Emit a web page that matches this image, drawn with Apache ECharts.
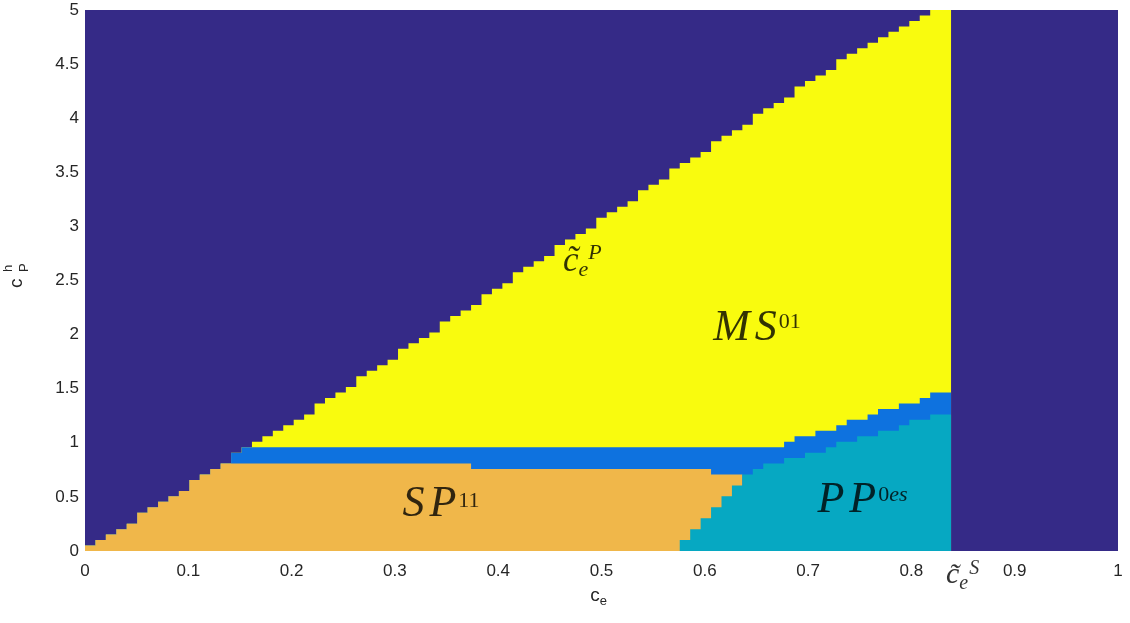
<!DOCTYPE html>
<html><head><meta charset="utf-8">
<script src="https://cdn.jsdelivr.net/npm/echarts@6/dist/echarts.min.js"></script>
<style>html,body{margin:0;padding:0;background:#fff}#c{width:1130px;height:623px}</style>
</head><body><div id="c"></div>
<script>
// ---- data ----
// the region map was sampled on a 100 x 100 grid -> 99 x 99 cells
const nCols = 99, nRows = 99;
const xMax = 1, yMax = 5;
const xTickLabels = ['0','0.1','0.2','0.3','0.4','0.5','0.6','0.7','0.8','0.9','1'];
const yTickLabels = ['0','0.5','1','1.5','2','2.5','3','3.5','4','4.5','5'];
// upper (diagonal) boundary c~e^P, in row cells, for columns 0..82
const diagTop = [1,2,3,4,5,7,8,9,10,11,13,14,15,16,18,19,20,21,22,23,24,
  25,27,28,29,30,32,33,34,35,37,38,39,40,42,43,44,45,47,48,49,
  51,52,53,54,56,57,58,59,61,62,63,64,66,67,68,70,71,72,73,75,
  76,77,78,80,81,82,83,85,86,87,88,90,
  91,92,93,94,95,96,97,98,99,99];
// lower edge of MS^01 (top of the blue band): runs [firstCol, lastCol, rowCell]
const msBottom = [[0,66,19],[67,67,20],[68,69,21],[70,71,22],[72,72,23],[73,74,24],[75,75,25],[76,77,26],[78,79,27],[80,80,28],[81,82,29]];
// top of SP^11
const spTop = [[0,36,16],[37,59,15],[60,62,14]];
// top of PP^0es
const ppTop = [[57,57,2],[58,58,4],[59,59,6],[60,60,8],[61,61,10],[62,62,12],[63,63,14],[64,64,15],[65,66,16],[67,68,17],[69,70,18],[71,71,19],[72,73,20],[74,75,21],[76,77,22],[78,78,23],[79,80,24],[81,82,25]];

// ---- chart ----
const cw = xMax / nCols, ch = yMax / nRows;
const lastCol = diagTop.length - 1;
function runValue(runs, k) { for (const r of runs) if (k >= r[0] && k <= r[1]) return r[2]; return 0; }
const regions = [
  { color: '#f9fb0e', k0: 0, k1: lastCol, top: k => diagTop[k] },
  { color: '#0e72df', k0: 0, k1: lastCol, top: k => Math.min(diagTop[k], runValue(msBottom, k)) },
  { color: '#f0b74a', k0: 0, k1: spTop[spTop.length-1][1], top: k => Math.min(diagTop[k], runValue(spTop, k)) },
  { color: '#06a8c2', k0: ppTop[0][0], k1: lastCol, top: k => runValue(ppTop, k) }
];

const serif = '"Liberation Serif", "DejaVu Serif", serif';
const sans = '"Liberation Sans", Arial, sans-serif';
function tok(size, italic, padTop, padRight, lh) {
  return { fontFamily: serif, fontStyle: italic ? 'italic' : 'normal', fontSize: size, lineHeight: lh || size,
    color: '#000', verticalAlign: 'top', padding: [padTop, padRight, 0, 0] };
}
const rich = {
  big:  tok(44, true, 0, 5, 48),
  bigL: tok(44, true, 0, 2, 48),
  supM: tok(22, false, 4, 0),
  supS: tok(22, false, 7, 0),
  supP: tok(22, false, 6, 0),
  supPi: tok(22, true, 6, 1),
  c:    tok(35, true, 3, 0, 44),
  csub: tok(22, true, 18, 0),
  csup: tok(22, true, 1, 0),
  c2:    tok(30, true, 3, 0, 40),
  c2sub: tok(20, true, 16, 1),
  c2sup: tok(20, true, 1, 0)
};

const option = {
  animation: false,
  grid: { left: 85, right: 12, top: 10, bottom: 72, show: true, backgroundColor: '#352a87', borderWidth: 0 },
  xAxis: {
    type: 'value', min: 0, max: xMax, interval: 0.1,
    axisLine: { show: false }, axisTick: { show: false }, splitLine: { show: false },
    axisLabel: { fontFamily: sans, fontSize: 17, color: '#262626', margin: 12,
      formatter: v => xTickLabels[Math.round(v / 0.1)] },
    name: '{c|c}{e|e}', nameLocation: 'middle', nameGap: 35,
    nameTextStyle: { rich: {
      c: { fontFamily: sans, fontSize: 19, color: '#262626', lineHeight: 28, verticalAlign: 'top', padding: [0,0,0,0] },
      e: { fontFamily: sans, fontSize: 13, color: '#262626', lineHeight: 13, verticalAlign: 'top', padding: [9,6,0,0] } } }
  },
  yAxis: {
    type: 'value', min: 0, max: yMax, interval: 0.5,
    axisLine: { show: false }, axisTick: { show: false }, splitLine: { show: false },
    axisLabel: { fontFamily: sans, fontSize: 17, color: '#262626', margin: 6, padding: [9,0,0,0],
      formatter: v => yTickLabels[Math.round(v / 0.5)] }
  },
  graphic: [{
    type: 'group', x: 0, y: 0, rotation: Math.PI / 2, silent: true,
    children: [
      { type: 'text', x: -288, y: 26, style: { text: 'c', font: '19px ' + sans, fill: '#262626', textVerticalAlign: 'bottom', verticalAlign: 'bottom' } },
      { type: 'text', x: -272, y: 31, style: { text: 'P', font: '13px ' + sans, fill: '#262626', textVerticalAlign: 'bottom', verticalAlign: 'bottom' } },
      { type: 'text', x: -272, y: 15, style: { text: 'h', font: '13px ' + sans, fill: '#262626', textVerticalAlign: 'bottom', verticalAlign: 'bottom' } }
    ]
  }],
  series: [
    {
      type: 'custom', coordinateSystem: 'cartesian2d', silent: true, z: 1,
      data: regions.map((r, i) => [i, 0]),
      renderItem: (params, api) => {
        const r = regions[params.dataIndex];
        const pts = [];
        for (let k = r.k0; k <= r.k1; k++) {
          const t = r.top(k) * ch;
          pts.push(api.coord([k * cw, t]));
          pts.push(api.coord([(k + 1) * cw, t]));
        }
        pts.push(api.coord([(r.k1 + 1) * cw, 0]));
        pts.push(api.coord([r.k0 * cw, 0]));
        return { type: 'polygon', shape: { points: pts }, style: { fill: r.color } };
      }
    },
    {
      type: 'scatter', z: 5, silent: true, clip: false,
      symbol: 'circle', symbolSize: 1, itemStyle: { color: 'rgba(0,0,0,0)' },
      label: { show: true, position: 'inside', rich: rich },
      data: [
        { value: [0.6505, 2.035], label: { formatter: '{big|M}{bigL|S}{supM|01}' } },
        { value: [0.3446, 0.408], label: { formatter: '{big|S}{bigL|P}{supS|11}' } },
        { value: [0.7531, 0.449], label: { formatter: '{big|P}{bigL|P}{supP|0}{supPi|es}' } },
        { value: [0.4815, 2.663], label: { formatter: '{c|c\u0303}{csub|e}{csup|P}' } },
        { value: [0.8495, -0.243], label: { formatter: '{c2|c\u0303}{c2sub|e}{c2sup|S}' } }
      ]
    }
  ]
};
const chart = echarts.init(document.getElementById('c'));
chart.setOption(option);
</script></body></html>
